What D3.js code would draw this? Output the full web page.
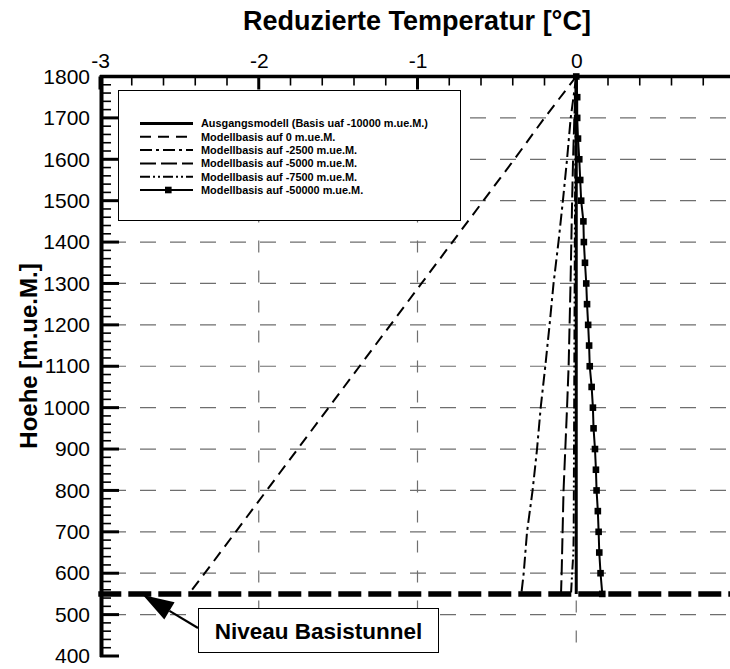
<!DOCTYPE html>
<html><head><meta charset="utf-8">
<script src="https://cdn.jsdelivr.net/npm/d3@7"></script>
<style>body{margin:0;background:#fff}svg{display:block}text{font-family:"Liberation Sans",Arial,Helvetica,sans-serif}</style>
</head><body><svg id="c" width="730" height="669"></svg>
<script>
const xTicks=[-3,-2,-1,0,1];
const yTicks=[400,500,600,700,800,900,1000,1100,1200,1300,1400,1500,1600,1700,1800];
const heights=[1800,1700,1600,1500,1400,1300,1200,1100,1000,900,800,700,600,550];
const baseline=[0,0,0,0,0,0,0,0,0,0,0,0,0,0];
const base0=[0,-0.2,-0.39,-0.585,-0.78,-0.975,-1.17,-1.365,-1.56,-1.755,-1.95,-2.145,-2.34,-2.44];
const base2500=[0,-0.035,-0.058,-0.084,-0.112,-0.143,-0.168,-0.195,-0.224,-0.247,-0.275,-0.31,-0.331,-0.346];
const base5000=[0,-0.012,-0.02,-0.026,-0.031,-0.036,-0.042,-0.048,-0.058,-0.069,-0.08,-0.086,-0.092,-0.096];
const heights7500=[1800,1600,1400,1200,1000,800,700,650,600,550];
const base7500=[0,-0.006,-0.009,-0.011,-0.013,-0.015,-0.016,-0.018,-0.026,-0.033];
const heights50=[1800,1750,1700,1650,1600,1550,1500,1450,1400,1350,1300,1250,1200,1150,1100,1050,1000,950,900,850,800,750,700,650,600,550];
const base50000=[0,0.006,0.006,0.011,0.019,0.025,0.031,0.045,0.048,0.055,0.063,0.068,0.075,0.081,0.085,0.097,0.105,0.109,0.118,0.124,0.128,0.136,0.141,0.145,0.153,0.164];
const tunnelLevel=550;
const legendLabels=["Ausgangsmodell (Basis uaf -10000 m.ue.M.)","Modellbasis auf 0 m.ue.M.","Modellbasis auf -2500 m.ue.M.","Modellbasis auf -5000 m.ue.M.","Modellbasis auf -7500 m.ue.M.","Modellbasis auf -50000 m.ue.M."];

const svg=d3.select("#c");
const x=d3.scaleLinear().domain([-3,1]).range([100,735]);
const y=d3.scaleLinear().domain([400,1800]).range([656,76.5]);

// grid
const g=svg.append("g");
g.selectAll(".hg").data(yTicks.filter(v=>v>400&&v<1800)).join("line")
 .attr("x1",110).attr("x2",735).attr("y1",d=>y(d)).attr("y2",d=>y(d))
 .attr("stroke","#6e6e6e").attr("stroke-width",1.2).attr("stroke-dasharray","16,14");
g.selectAll(".vg").data([-2,-1,0]).join("line")
 .attr("x1",d=>x(d)).attr("x2",d=>x(d)).attr("y1",y(1800)+14).attr("y2",y(400))
 .attr("stroke","#6e6e6e").attr("stroke-width",1.2).attr("stroke-dasharray","12,18");

// legend box
const lg=svg.append("g");
lg.append("rect").attr("x",118.5).attr("y",90.5).attr("width",342).attr("height",130)
 .attr("fill","#fff").attr("stroke","#000").attr("stroke-width",1);

// axes
const fmt=d=>String(d);
const topAxis=d3.axisTop(x).tickValues(xTicks).tickSize(0).tickPadding(9).tickFormat(fmt);
const ta=svg.append("g").attr("transform",`translate(0,${y(1800)})`).call(topAxis);
ta.select(".domain").remove();
ta.selectAll("text").attr("font-size",21).attr("fill","#000");
const leftAxis=d3.axisLeft(y).tickValues(yTicks).tickSize(0).tickPadding(10).tickFormat(fmt);
const la=svg.append("g").attr("transform",`translate(${x(-3)},0)`).call(leftAxis);
la.select(".domain").remove();
la.selectAll("text").attr("font-size",21).attr("fill","#000");

// tick marks (inward)
const xMinor=d3.range(-3,1.001,0.2).map(v=>+v.toFixed(1));
svg.append("g").selectAll("line").data(xMinor).join("line")
 .attr("x1",d=>x(d)).attr("x2",d=>x(d)).attr("y1",y(1800))
 .attr("y2",d=>y(1800)+(xTicks.includes(d)?13:9))
 .attr("stroke","#000").attr("stroke-width",d=>xTicks.includes(d)?3:1.6);
const yMinor=d3.range(400,1801,20);
svg.append("g").selectAll("line").data(yMinor).join("line")
 .attr("y1",d=>y(d)).attr("y2",d=>y(d)).attr("x1",x(-3))
 .attr("x2",d=>x(-3)+(yTicks.includes(d)?19:11))
 .attr("stroke","#000").attr("stroke-width",d=>yTicks.includes(d)?3:1.6);
svg.append("line").attr("x1",x(-3)).attr("x2",730).attr("y1",y(1800)).attr("y2",y(1800))
 .attr("stroke","#000").attr("stroke-width",3.5);
svg.append("line").attr("x1",x(-3)+1.5).attr("x2",x(-3)+1.5).attr("y1",y(1800)-1.5).attr("y2",y(400)+1)
 .attr("stroke","#000").attr("stroke-width",4);

// series
const line=d3.line().x(d=>x(d[0])).y(d=>y(d[1]));
const zip=(vals,hs)=>vals.map((v,i)=>[v,hs[i]]);
const styles=[
 {vals:baseline,hs:heights,dash:null,w:3},
 {vals:base0,hs:heights,dash:"11,7",w:2},
 {vals:base2500,hs:heights,dash:"12,4,3,4",w:2},
 {vals:base5000,hs:heights,dash:"16,5",w:2},
 {vals:base7500,hs:heights7500,dash:"10,3,2,3,2,3",w:2},
 {vals:base50000,hs:heights50,dash:null,w:2}
];
const sg=svg.append("g");
[1,2,3,4,0,5].forEach(i=>{
 const s=styles[i];
 sg.append("path").datum(zip(s.vals,s.hs)).attr("d",line).attr("fill","none")
  .attr("stroke","#000").attr("stroke-width",s.w).attr("stroke-dasharray",s.dash);
});
sg.selectAll("rect.m").data(zip(base50000,heights50)).join("rect")
 .attr("x",d=>x(d[0])-3.3).attr("y",d=>y(d[1])-3.3).attr("width",6.6).attr("height",6.6).attr("fill","#000");

// tunnel level
svg.append("line").attr("x1",98.3).attr("x2",735).attr("y1",y(tunnelLevel)).attr("y2",y(tunnelLevel))
 .attr("stroke","#000").attr("stroke-width",5.5).attr("stroke-dasharray","23,7");

// legend entries
legendLabels.forEach((t,i)=>{
 const yy=123.5+i*13.3;
 const s=styles[i];
 lg.append("line").attr("x1",140).attr("x2",193).attr("y1",yy).attr("y2",yy)
  .attr("stroke","#000").attr("stroke-width",i===0?3:2).attr("stroke-dasharray",s.dash);
 if(i===5) lg.append("rect").attr("x",165).attr("y",yy-3.3).attr("width",6.6).attr("height",6.6).attr("fill","#000");
 lg.append("text").attr("x",201).attr("y",yy+3.8).attr("font-size",10.9).attr("font-weight","bold").text(t);
});

// annotation
const tip=[x(-2.73),y(tunnelLevel)+1];
const tail=[198,628];
const dx=tip[0]-tail[0], dy=tip[1]-tail[1], L=Math.hypot(dx,dy), ux=dx/L, uy=dy/L;
const hl=31, hw=10;
const bx=tip[0]-ux*hl, by=tip[1]-uy*hl;
svg.append("line").attr("x1",tail[0]).attr("y1",tail[1]).attr("x2",bx).attr("y2",by).attr("stroke","#000").attr("stroke-width",2.2);
svg.append("path").attr("d",`M${tip[0]},${tip[1]}L${bx-uy*hw},${by+ux*hw}L${bx+uy*hw},${by-ux*hw}Z`).attr("fill","#000");
svg.append("rect").attr("x",198.5).attr("y",608.5).attr("width",240).attr("height",44).attr("fill","#fff").attr("stroke","#000").attr("stroke-width",1);
svg.append("text").attr("x",318.5).attr("y",639).attr("text-anchor","middle").attr("font-size",22.5).attr("font-weight","bold").text("Niveau Basistunnel");

// titles
svg.append("text").attr("x",417).attr("y",30).attr("text-anchor","middle").attr("font-size",27).attr("font-weight","bold").text("Reduzierte Temperatur [°C]");
svg.append("text").attr("transform","translate(37,356) rotate(-90)").attr("text-anchor","middle").attr("font-size",24).attr("font-weight","bold").text("Hoehe [m.ue.M.]");
</script></body></html>
